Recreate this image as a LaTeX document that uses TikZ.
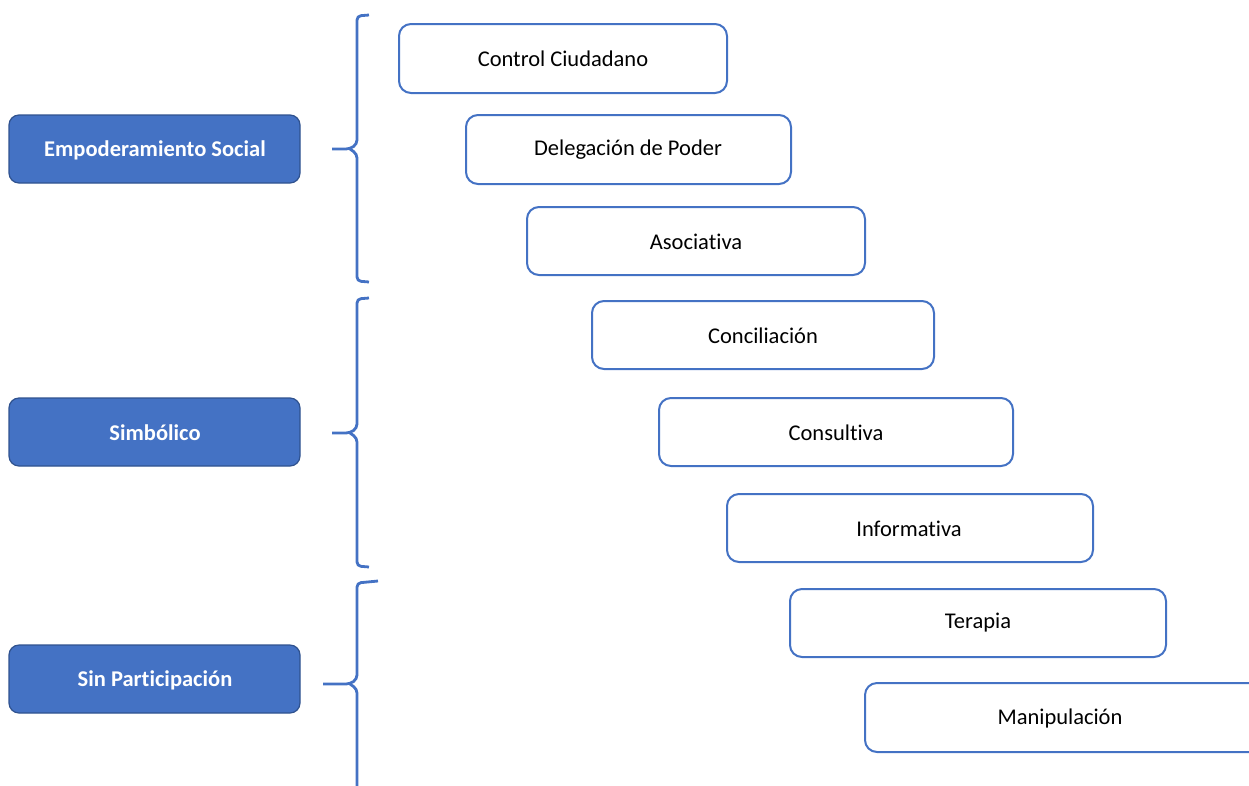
\documentclass[tikz,border=0pt]{standalone}
\usepackage{fontspec}
\setmainfont[Ligatures=NoCommon]{Carlito}
\definecolor{blu}{HTML}{4472C4}
\definecolor{dblu}{HTML}{2F528F}
\begin{document}
\begin{tikzpicture}[x=1pt,y=-1pt,
  catbox/.style={draw=dblu,line width=1.2pt,fill=blu,rounded corners=10pt},
  cattext/.style={text=white,font=\fontsize{22.5}{26}\selectfont\bfseries},
  lvlbox/.style={draw=blu,line width=2pt,fill=white,rounded corners=12pt},
  lvltext/.style={font=\fontsize{22.5}{26}\selectfont},
  brace/.style={draw=blu,line width=2.8pt,rounded corners=4pt}]
\useasboundingbox (0,0) rectangle (1249,785);
\clip (0,0) rectangle (1249,785);
% category boxes
\path[catbox] (9,115) rectangle (300,183);
\node[cattext] (emp) at (155,150) {Empoderamiento Social};
\path[catbox] (9,398) rectangle (300,466);
\node[cattext] (sim) at (155,433) {Simbólico};
\path[catbox] (9,645) rectangle (300,713);
\node[cattext] (sin) at (155,680) {Sin Participación};
% level boxes
\path[lvlbox] (399,24) rectangle (727,93);
\node[lvltext] (l1) at (563,59) {Control Ciudadano};
\path[lvlbox] (466,115) rectangle (791,184);
\node[lvltext] (l2) at (628,150) {Delegación de Poder};
\path[lvlbox] (527,207) rectangle (865,275);
\node[lvltext] (l3) at (696,242) {Asociativa};
\path[lvlbox] (592,301) rectangle (934,369);
\node[lvltext] (l4) at (763,336) {Conciliación};
\path[lvlbox] (659,398) rectangle (1013,466);
\node[lvltext] (l5) at (836,433) {Consultiva};
\path[lvlbox] (727,494) rectangle (1093,562);
\node[lvltext] (l6) at (909,529) {Informativa};
\path[lvlbox] (790,589) rectangle (1166,657);
\node[lvltext] (l7) at (978,623) {Terapia};
\path[lvlbox] (865,683) rectangle (1262,752);
\node[lvltext] (l8) at (1060,718) {Manipulación};
% braces
\coordinate (b1) at (332,149);
\draw[brace] (369,15) -- (357,16) -- (357,144) -- (350,149) -- (b1);
\draw[brace] (350,149) -- (357,154) -- (357,281) -- (369,282);
\coordinate (b2) at (332,433);
\draw[brace] (369,298) -- (357,299) -- (357,428) -- (350,433) -- (b2);
\draw[brace] (350,433) -- (357,438) -- (357,566) -- (369,567);
\coordinate (b3) at (323,684);
\draw[brace] (378,581) -- (357,583) -- (357,679) -- (350,684) -- (b3);
\draw[brace] (350,684) -- (357,689) -- (357,786);
\end{tikzpicture}
\end{document}
